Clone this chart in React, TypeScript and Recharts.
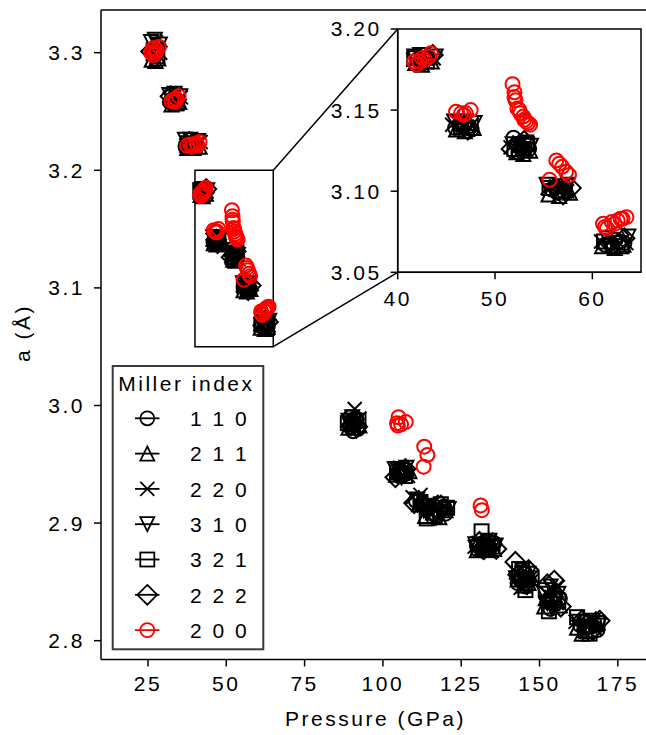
import React from 'react';
import {
  ScatterChart,
  Scatter,
  XAxis,
  YAxis,
  CartesianGrid,
  ReferenceArea,
  ReferenceLine,
} from 'recharts';

type Pt = [number, number];

// pressure (GPa), lattice parameter a (Å) per Miller index, one line per pressure cluster
const s110: Pt[] = [
  [26.5, 3.301], [28.0, 3.303], [27.2, 3.297],
  [33.0, 3.261], [34.5, 3.259], [32.0, 3.258],
  [38.0, 3.222], [40.5, 3.221], [37.0, 3.22],
  [42.0, 3.181], [43.2, 3.182], [42.6, 3.179],
  [46.3, 3.141], [47.3, 3.14], [45.9, 3.139], [46.9, 3.141], [47.6, 3.138],
  [51.9, 3.133], [52.8, 3.127], [53.5, 3.126], [52.2, 3.129], [53.0, 3.126], [52.4, 3.124],
  [55.8, 3.101], [57.2, 3.102], [56.4, 3.099], [57.0, 3.1], [56.2, 3.102],
  [61.3, 3.067], [62.8, 3.069], [62.0, 3.066], [62.4, 3.07], [63.3, 3.068],
  [89.5, 2.982], [91.0, 2.985], [92.0, 2.98], [90.5, 2.978], [91.5, 2.989], [89.5, 2.99],
  [105.0, 2.944], [107.5, 2.942], [106.0, 2.94], [106.5, 2.943], [105.3, 2.94],
  [110.5, 2.919], [114.5, 2.912], [118.0, 2.91], [116.0, 2.915], [120.0, 2.908],
  [112.5, 2.917], [117.0, 2.911], [119.5, 2.914],
  [131.0, 2.88], [134.0, 2.879], [132.5, 2.884], [135.5, 2.883], [133.0, 2.882], [130.0, 2.881],
  [144.0, 2.855], [146.0, 2.851], [143.0, 2.849], [145.5, 2.846], [145.0, 2.857], [144.0, 2.851],
  [152.5, 2.833], [155.0, 2.831], [153.5, 2.827], [156.5, 2.836], [155.0, 2.84], [154.0, 2.833],
  [163.0, 2.813], [166.5, 2.812], [164.5, 2.817], [168.5, 2.809], [165.0, 2.812], [167.5, 2.815],
];
const s211: Pt[] = [
  [26.2, 3.294], [28.3, 3.295], [27.4, 3.293],
  [32.5, 3.256], [35.0, 3.258], [33.8, 3.257],
  [37.5, 3.219], [41.5, 3.22], [39.5, 3.219],
  [41.8, 3.179], [43.5, 3.18], [42.5, 3.178],
  [46.0, 3.138], [47.8, 3.139], [46.9, 3.137],
  [52.2, 3.124], [53.6, 3.125], [52.9, 3.123],
  [55.5, 3.098], [57.7, 3.099], [56.6, 3.097],
  [61.0, 3.066], [63.2, 3.067], [62.3, 3.065],
  [90.0, 2.986], [92.5, 2.983], [89.0, 2.981],
  [104.2, 2.941], [106.8, 2.945], [108.5, 2.944],
  [111.5, 2.916], [116.0, 2.909], [120.0, 2.911], [113.5, 2.906], [118.0, 2.905],
  [130.0, 2.877], [133.0, 2.881], [135.5, 2.878], [131.5, 2.878],
  [143.0, 2.852], [147.0, 2.856], [145.0, 2.847], [146.5, 2.849],
  [152.0, 2.836], [156.5, 2.83], [154.5, 2.843], [151.5, 2.829],
  [162.0, 2.811], [168.0, 2.814], [165.0, 2.808], [163.5, 2.806],
];
const s220: Pt[] = [
  [27.5, 3.309], [26.5, 3.299], [28.9, 3.3],
  [33.8, 3.264], [32.0, 3.261], [35.5, 3.262],
  [39.0, 3.225], [37.2, 3.221], [41.8, 3.224],
  [42.6, 3.183], [41.6, 3.181], [43.7, 3.182],
  [46.6, 3.143], [47.6, 3.141], [45.6, 3.141],
  [52.5, 3.13], [53.2, 3.125], [51.6, 3.127],
  [56.3, 3.103], [57.4, 3.1], [55.4, 3.102],
  [62.0, 3.07], [63.5, 3.068], [60.9, 3.069],
  [91.0, 2.997], [90.5, 2.981], [92.5, 2.989],
  [105.5, 2.947], [108.0, 2.94], [104.5, 2.946],
  [109.5, 2.922], [113.0, 2.915], [117.5, 2.913], [112.0, 2.924], [115.5, 2.918],
  [130.5, 2.883], [134.5, 2.877], [133.0, 2.886], [129.3, 2.88],
  [142.5, 2.858], [145.0, 2.853], [147.5, 2.851], [144.0, 2.845],
  [153.0, 2.838], [155.5, 2.832], [155.5, 2.846], [152.0, 2.841],
  [164.0, 2.815], [167.5, 2.811], [161.5, 2.816], [166.0, 2.819],
];
const s310: Pt[] = [
  [27.2, 3.311], [28.8, 3.307], [26.0, 3.309],
  [33.5, 3.265], [35.3, 3.263], [31.8, 3.264],
  [38.5, 3.226], [41.0, 3.225], [36.8, 3.226],
  [42.3, 3.184], [43.9, 3.183], [41.7, 3.183],
  [45.8, 3.143], [47.0, 3.143], [47.9, 3.142], [46.4, 3.142],
  [51.8, 3.129], [52.6, 3.126], [53.7, 3.128], [53.2, 3.13],
  [56.0, 3.1], [57.5, 3.104], [55.3, 3.104], [56.7, 3.103],
  [61.5, 3.071], [62.5, 3.068], [63.7, 3.072], [61.8, 3.066],
  [89.0, 2.987], [91.5, 2.979], [90.2, 2.99],
  [103.8, 2.946], [106.0, 2.939], [107.5, 2.947],
  [111.0, 2.92], [115.0, 2.914], [119.0, 2.908], [114.0, 2.909], [121.0, 2.912],
  [113.0, 2.911], [117.0, 2.906],
  [129.5, 2.882], [132.5, 2.876], [136.0, 2.881], [134.0, 2.885], [134.8, 2.879],
  [143.5, 2.849], [146.5, 2.857], [144.5, 2.86], [142.5, 2.853], [146.0, 2.846],
  [151.5, 2.84], [154.0, 2.828], [156.0, 2.84], [153.5, 2.846], [152.5, 2.832],
  [162.5, 2.816], [165.5, 2.81], [169.0, 2.813], [167.0, 2.817], [163.5, 2.811],
];
const s321: Pt[] = [
  [26.8, 3.302], [28.0, 3.297],
  [32.8, 3.262], [34.2, 3.257],
  [37.8, 3.223], [40.0, 3.22],
  [41.7, 3.182], [43.0, 3.18],
  [46.5, 3.14], [47.5, 3.142],
  [52.0, 3.126], [53.3, 3.129],
  [55.6, 3.102], [56.8, 3.1],
  [61.2, 3.069], [63.0, 3.066],
  [90.2, 2.984], [92.2, 2.987], [88.8, 2.985],
  [104.5, 2.943], [107.0, 2.94], [105.8, 2.945],
  [112.0, 2.918], [116.5, 2.906], [120.5, 2.913], [118.5, 2.916], [114.0, 2.904],
  [131.5, 2.893], [130.5, 2.879], [135.0, 2.88], [133.5, 2.877],
  [144.5, 2.858], [147.5, 2.853], [143.5, 2.861], [145.5, 2.843],
  [152.0, 2.843], [156.0, 2.834], [154.5, 2.836], [153.0, 2.825],
  [164.5, 2.809], [168.5, 2.815], [162.0, 2.82], [166.0, 2.806],
];
const s222: Pt[] = [
  [27.8, 3.305], [26.0, 3.301],
  [34.0, 3.26], [32.2, 3.263],
  [39.5, 3.222], [38.2, 3.224],
  [42.8, 3.181], [43.6, 3.184],
  [46.8, 3.141], [47.2, 3.138],
  [52.4, 3.128], [53.0, 3.131], [51.7, 3.126],
  [56.5, 3.101], [57.0, 3.098], [57.8, 3.102],
  [61.8, 3.068], [63.3, 3.071], [62.7, 3.073],
  [90.8, 2.988], [89.8, 2.983], [91.8, 2.982],
  [105.8, 2.942], [107.2, 2.946], [104.0, 2.939],
  [110.0, 2.917], [113.5, 2.913], [118.5, 2.915], [115.5, 2.91], [117.0, 2.907],
  [132.0, 2.878], [134.8, 2.882], [130.8, 2.884], [136.2, 2.878],
  [142.3, 2.867], [145.5, 2.85], [146.5, 2.86], [143.2, 2.856],
  [154.7, 2.851], [153.5, 2.835], [156.8, 2.829], [152.5, 2.848],
  [163.5, 2.817], [167.0, 2.809], [165.0, 2.814], [169.2, 2.817],
];
const s200: Pt[] = [
  [26.0, 3.3], [27.0, 3.304], [27.8, 3.302], [28.5, 3.305], [26.8, 3.298], [27.3, 3.3], [26.4, 3.303],
  [32.5, 3.259], [33.3, 3.26], [34.0, 3.261], [34.8, 3.263], [33.6, 3.258],
  [37.5, 3.221], [38.5, 3.222], [39.5, 3.222], [40.5, 3.223], [41.5, 3.224], [39.0, 3.22], [40.8, 3.221],
  [41.7, 3.18], [42.2, 3.18], [42.8, 3.181], [43.2, 3.183], [43.4, 3.185], [42.5, 3.182], [41.9, 3.178],
  [46.0, 3.149], [46.5, 3.148], [47.0, 3.148], [47.5, 3.15], [46.8, 3.147],
  [51.8, 3.166], [52.0, 3.161], [52.1, 3.156], [52.3, 3.151], [52.6, 3.148], [52.9, 3.146],
  [53.2, 3.143], [53.6, 3.141], [52.0, 3.158], [52.5, 3.15], [53.0, 3.144], [53.4, 3.142],
  [56.3, 3.119], [56.6, 3.117], [56.9, 3.115], [57.3, 3.112], [57.6, 3.11], [55.6, 3.107],
  [61.1, 3.08], [61.5, 3.077], [62.0, 3.081], [62.6, 3.082], [63.1, 3.083], [63.5, 3.084],
  [61.3, 3.078], [62.3, 3.08], [62.9, 3.083],
  [104.5, 2.985], [105.0, 2.99], [105.8, 2.984], [107.3, 2.986], [104.8, 2.983],
  [113.2, 2.965], [114.2, 2.958], [113.0, 2.948],
  [131.2, 2.915], [131.6, 2.911],
];

const millerLabels = ['1 1 0', '2 1 1', '2 2 0', '3 1 0', '3 2 1', '2 2 2', '2 0 0'];
const mainXTicks = [25, 50, 75, 100, 125, 150, 175];
const mainYTicks = [2.8, 2.9, 3.0, 3.1, 3.2, 3.3];
const insetXTicks = [40, 50, 60];
const insetYTicks = [3.05, 3.1, 3.15, 3.2];

type Kind = 'circle' | 'triUp' | 'x' | 'triDown' | 'square' | 'diamond';

const series: { name: string; pts: Pt[]; kind: Kind; color: string }[] = [
  { name: millerLabels[0], pts: s110, kind: 'circle', color: '#000' },
  { name: millerLabels[1], pts: s211, kind: 'triUp', color: '#000' },
  { name: millerLabels[2], pts: s220, kind: 'x', color: '#000' },
  { name: millerLabels[3], pts: s310, kind: 'triDown', color: '#000' },
  { name: millerLabels[4], pts: s321, kind: 'square', color: '#000' },
  { name: millerLabels[5], pts: s222, kind: 'diamond', color: '#000' },
  { name: millerLabels[6], pts: s200, kind: 'circle', color: '#ff0000' },
];

// layout
const W = 646;
const H = 735;
const MAIN = { left: 101, right: 646, top: 10, bottom: 659.5 };
const MAIN_X: [number, number] = [10, 184];
const MAIN_Y: [number, number] = [2.784, 3.3363];
const INSET = { left: 397.7, right: 641, top: 29, bottom: 272.3 };
const INSET_X: [number, number] = [40, 65];
const INSET_Y: [number, number] = [3.05, 3.2];

const FONT = 'Liberation Sans, Arial, sans-serif';
const FS = 21;
const LS = 2.5;
const SIZE = 14;
const SW = 2;

const pxToMainX = (px: number) =>
  MAIN_X[0] + ((px - MAIN.left) / (MAIN.right - MAIN.left)) * (MAIN_X[1] - MAIN_X[0]);
const pxToMainY = (py: number) =>
  MAIN_Y[1] - ((py - MAIN.top) / (MAIN.bottom - MAIN.top)) * (MAIN_Y[1] - MAIN_Y[0]);

function Marker({ kind, cx, cy, color, sw = SW }: { kind: Kind; cx: number; cy: number; color: string; sw?: number }) {
  const h = SIZE / 2;
  const common = { fill: 'none', stroke: color, strokeWidth: sw };
  switch (kind) {
    case 'circle':
      return <circle cx={cx} cy={cy} r={h} {...common} />;
    case 'triUp':
      return <polygon points={`${cx},${cy - h} ${cx - h},${cy + h} ${cx + h},${cy + h}`} {...common} />;
    case 'triDown':
      return <polygon points={`${cx},${cy + h} ${cx - h},${cy - h} ${cx + h},${cy - h}`} {...common} />;
    case 'x':
      return (
        <path d={`M${cx - h},${cy - h}L${cx + h},${cy + h}M${cx - h},${cy + h}L${cx + h},${cy - h}`} {...common} />
      );
    case 'square':
      return <rect x={cx - h} y={cy - h} width={SIZE} height={SIZE} {...common} />;
    case 'diamond': {
      const d = h * 1.414;
      return <polygon points={`${cx},${cy - d} ${cx + d},${cy} ${cx},${cy + d} ${cx - d},${cy}`} {...common} />;
    }
  }
  return null;
}

const tickStyle = { fill: '#000', fontSize: FS, fontFamily: FONT, letterSpacing: LS };
const axisLine = { stroke: '#000', strokeWidth: 1.5 };

function renderSeries(inset: boolean) {
  return series.map((s) => {
    const data = s.pts
      .filter(([x, y]) => !inset || (x >= INSET_X[0] && x <= INSET_X[1] && y >= INSET_Y[0] && y <= INSET_Y[1]))
      .map(([x, y]) => ({ x, y }));
    return (
      <Scatter
        key={s.name}
        name={s.name}
        data={data}
        isAnimationActive={false}
        shape={(p: any) => <Marker kind={s.kind} cx={p.cx} cy={p.cy} color={s.color} />}
      />
    );
  });
}

export default function App() {
  const insetBox = { left: 330, top: 0, width: W - 330, height: 320 };
  const legendRows = series.map((s, i) => ({ ...s, y: 418.3 + i * 35.3 }));

  return (
    <div style={{ position: 'absolute', left: 0, top: 0, width: W, height: H, overflow: 'hidden', background: '#fff' }}>
      <div style={{ position: 'absolute', left: 0, top: 0 }}>
        <ScatterChart
          width={W}
          height={H}
          margin={{ top: MAIN.top, right: W - MAIN.right, left: MAIN.left - 60, bottom: H - MAIN.bottom - 30 }}
        >
          <XAxis
            type="number"
            dataKey="x"
            domain={MAIN_X}
            ticks={mainXTicks}
            interval={0}
            allowDataOverflow
            height={30}
            tick={tickStyle}
            tickSize={7}
            tickMargin={10}
            axisLine={axisLine}
            tickLine={axisLine}
          />
          <YAxis
            type="number"
            dataKey="y"
            domain={MAIN_Y}
            ticks={mainYTicks}
            interval={0}
            allowDataOverflow
            width={60}
            tick={tickStyle}
            tickSize={7}
            tickMargin={9}
            tickFormatter={(v: number) => v.toFixed(1)}
            axisLine={axisLine}
            tickLine={axisLine}
          />
          <ReferenceArea
            x1={INSET_X[0]}
            x2={INSET_X[1]}
            y1={INSET_Y[0]}
            y2={INSET_Y[1]}
            fill="none"
            fillOpacity={0}
            stroke="#000"
            strokeWidth={1.5}
          />
          <ReferenceLine
            segment={[
              { x: INSET_X[1], y: INSET_Y[1] },
              { x: pxToMainX(INSET.left), y: pxToMainY(INSET.top) },
            ]}
            stroke="#000"
            strokeWidth={1.5}
          />
          <ReferenceLine
            segment={[
              { x: INSET_X[1], y: INSET_Y[0] },
              { x: pxToMainX(INSET.left), y: pxToMainY(INSET.bottom) },
            ]}
            stroke="#000"
            strokeWidth={1.5}
          />
          {renderSeries(false)}
        </ScatterChart>
      </div>

      <div style={{ position: 'absolute', left: insetBox.left, top: insetBox.top }}>
        <ScatterChart
          width={insetBox.width}
          height={insetBox.height}
          margin={{
            top: INSET.top,
            right: insetBox.left + insetBox.width - INSET.right,
            left: INSET.left - insetBox.left - 60,
            bottom: insetBox.height - INSET.bottom - 30,
          }}
        >
          <CartesianGrid horizontal={false} vertical={false} fill="#fff" />
          <XAxis
            type="number"
            dataKey="x"
            domain={INSET_X}
            ticks={insetXTicks}
            interval={0}
            allowDataOverflow
            height={30}
            tick={tickStyle}
            tickSize={7}
            tickMargin={12}
            axisLine={axisLine}
            tickLine={axisLine}
          />
          <YAxis
            type="number"
            dataKey="y"
            domain={INSET_Y}
            ticks={insetYTicks}
            interval={0}
            allowDataOverflow
            width={60}
            tick={tickStyle}
            tickSize={7}
            tickMargin={9}
            tickFormatter={(v: number) => v.toFixed(2)}
            axisLine={axisLine}
            tickLine={axisLine}
          />
          {renderSeries(true)}
        </ScatterChart>
      </div>

      <svg
        width={W}
        height={H}
        style={{ position: 'absolute', left: 0, top: 0, pointerEvents: 'none' }}
        fontFamily={FONT}
      >
        <line x1={MAIN.left} y1={MAIN.top} x2={MAIN.right} y2={MAIN.top} stroke="#000" strokeWidth={1.5} />
        <rect
          x={INSET.left}
          y={INSET.top}
          width={INSET.right - INSET.left}
          height={INSET.bottom - INSET.top}
          fill="none"
          stroke="#000"
          strokeWidth={1.5}
        />
        <text x={(MAIN.left + 650) / 2} y={726} textAnchor="middle" fontSize={FS} letterSpacing={LS} fill="#000">
          Pressure (GPa)
        </text>
        <text
          x={0}
          y={0}
          transform="translate(30, 333) rotate(-90)"
          textAnchor="middle"
          fontSize={FS}
          letterSpacing={LS}
          fill="#000"
        >
          a (Å)
        </text>

        <rect x={112.7} y={366} width={150.6} height={283.3} fill="#fff" stroke="#3a3a3a" strokeWidth={2} />
        <text x={118.3} y={391} fontSize={FS} letterSpacing={LS} fill="#000">
          Miller index
        </text>
        {legendRows.map((r) => (
          <g key={r.name}>
            <line x1={135} y1={r.y} x2={159.5} y2={r.y} stroke={r.color} strokeWidth={1.8} />
            <Marker kind={r.kind} cx={147.3} cy={r.y} color={r.color} sw={1.8} />
            <text x={190} y={r.y + 7.7} fontSize={FS} letterSpacing={LS} fill="#000">
              {r.name}
            </text>
          </g>
        ))}
      </svg>
    </div>
  );
}
